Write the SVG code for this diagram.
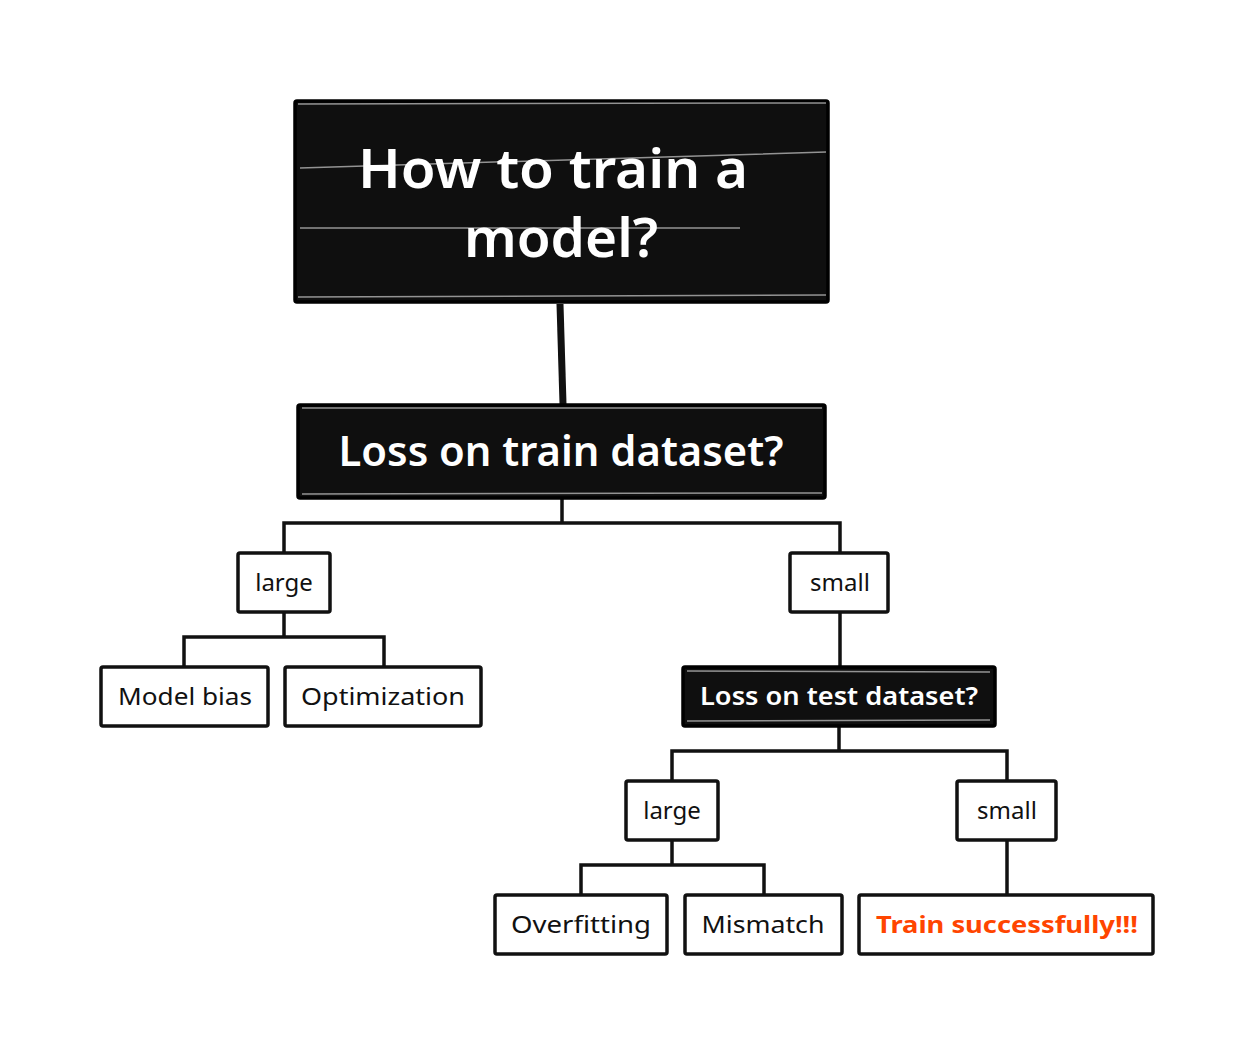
<svg xmlns="http://www.w3.org/2000/svg" width="1256" height="1056" viewBox="0 0 1256 1056">
<style>
.dark rect{fill:#0f0f0f;stroke:#000;stroke-width:3.5}
.light rect{fill:#fff;stroke:#111;stroke-width:3.5}
.dark text{fill:#fff;font-family:"Noto Sans",sans-serif;font-weight:600;text-anchor:middle}
.light text{fill:#111;font-family:"Noto Sans",sans-serif;font-size:24px;text-anchor:middle}
.hl{stroke:#fff;stroke-width:1.5;opacity:0.55}
#edges path{fill:none;stroke:#111;stroke-width:3.5}
</style>
<rect width="1256" height="1056" fill="#fff"/>
<g id="edges">
<path d="M560 304 L563 404" style="stroke-width:7"/>
<path d="M562 498 V523 M284 553 V523 H840 V553"/>
<path d="M284 612 V637 M184 667 V637 H384 V667"/>
<path d="M840 612 V667"/>
<path d="M839 726 V751 M672 781 V751 H1007 V781"/>
<path d="M672 840 V865 M581 895 V865 H764 V895"/>
<path d="M1007 840 V895"/>
</g>
<g id="title" class="dark">
<rect x="295" y="101" width="533" height="201" rx="2"/>
<path class="hl" d="M298 104 L826 103 M298 297 L826 295 M300 168 L826 152 M300 228 L740 228"/>
<text x="553" y="188" font-size="54" textLength="390" lengthAdjust="spacingAndGlyphs">How to train a</text>
<text x="561" y="257" font-size="54" textLength="194" lengthAdjust="spacingAndGlyphs">model?</text>
</g>
<g id="train-loss" class="dark">
<rect x="298" y="405" width="527" height="93" rx="2"/>
<path class="hl" d="M302 408 L822 408 M302 494 L822 493"/>
<text x="561" y="466" font-size="42" textLength="445" lengthAdjust="spacingAndGlyphs">Loss on train dataset?</text>
</g>
<g id="large1" class="light">
<rect x="238" y="553" width="92" height="59" rx="2"/>
<text x="284" y="591">large</text>
</g>
<g id="small1" class="light">
<rect x="790" y="553" width="98" height="59" rx="2"/>
<text x="840" y="591">small</text>
</g>
<g id="model-bias" class="light">
<rect x="101" y="667" width="167" height="59" rx="2"/>
<text x="185" y="705" textLength="134" lengthAdjust="spacingAndGlyphs">Model bias</text>
</g>
<g id="optimization" class="light">
<rect x="285" y="667" width="196" height="59" rx="2"/>
<text x="383" y="705" textLength="164" lengthAdjust="spacingAndGlyphs">Optimization</text>
</g>
<g id="test-loss" class="dark">
<rect x="683" y="667" width="312" height="59" rx="2"/>
<path class="hl" d="M687 671 L990 672 M687 721 L990 720"/>
<text x="839" y="705" font-size="25" textLength="278" lengthAdjust="spacingAndGlyphs">Loss on test dataset?</text>
</g>
<g id="large2" class="light">
<rect x="626" y="781" width="92" height="59" rx="2"/>
<text x="672" y="819">large</text>
</g>
<g id="small2" class="light">
<rect x="957" y="781" width="99" height="59" rx="2"/>
<text x="1007" y="819">small</text>
</g>
<g id="overfitting" class="light">
<rect x="495" y="895" width="172" height="59" rx="2"/>
<text x="581" y="933" textLength="140" lengthAdjust="spacingAndGlyphs">Overfitting</text>
</g>
<g id="mismatch" class="light">
<rect x="685" y="895" width="157" height="59" rx="2"/>
<text x="763" y="933" textLength="123" lengthAdjust="spacingAndGlyphs">Mismatch</text>
</g>
<g id="success" class="light">
<rect x="859" y="895" width="294" height="59" rx="2"/>
<text x="1007" y="933" style="fill:#ff4500;font-weight:700" textLength="262" lengthAdjust="spacingAndGlyphs">Train successfully!!!</text>
</g>
</svg>
